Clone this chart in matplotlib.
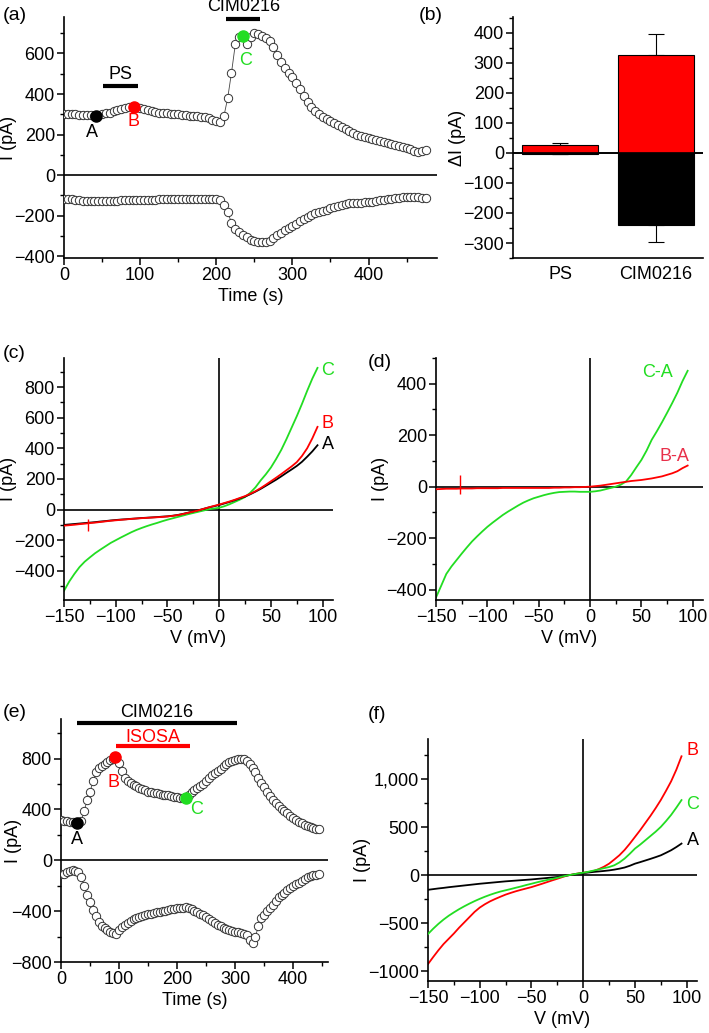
import numpy as np
import matplotlib
matplotlib.use('Agg')
import matplotlib.pyplot as plt
from matplotlib.ticker import MultipleLocator, FixedLocator, FixedFormatter

plt.rcParams['font.family'] = ['Liberation Sans', 'DejaVu Sans']
plt.rcParams['font.size'] = 13

RED = '#ff0000'
GREEN = '#22dd22'
PINK = '#e8304a'
FS = 13

## data
# (a) time course, one point every 5 s
ta_step = 5
a_out = [300, 300, 299, 300, 298, 297, 296, 294, 292, 296, 300, 305, 308, 315, 320, 325, 330, 335, 338, 336,
         330, 325, 320, 315, 312, 308, 306, 305, 303, 302, 300, 298, 296, 293, 292, 290, 288, 285, 280, 272,
         265, 262, 290, 380, 505, 645, 682, 688, 645, 680, 700, 698, 685, 675, 660, 630, 595, 560, 530, 505,
         485, 455, 425, 390, 360, 335, 315, 300, 285, 275, 265, 255, 245, 235, 225, 215, 208, 200, 193, 187,
         182, 178, 173, 168, 163, 158, 153, 148, 144, 140, 134, 128, 120, 116, 120, 122]
a_in = [-118, -120, -118, -122, -125, -126, -128, -127, -128, -128, -127, -128, -128, -127, -126, -125, -125, -124,
        -124, -123, -122, -122, -121, -121, -121, -120, -120, -120, -120, -120, -120, -119, -119, -119, -119, -119,
        -119, -118, -118, -118, -120, -125, -150, -185, -235, -265, -282, -295, -308, -320, -328, -332, -333, -332,
        -325, -312, -298, -285, -272, -262, -252, -240, -228, -215, -205, -197, -190, -185, -180, -172, -165, -158,
        -153, -148, -144, -140, -138, -137, -136, -135, -134, -131, -128, -125, -122, -119, -117, -115, -113, -111,
        -110, -109, -108, -110, -112, -112]
a_marks_t = [42, 92, 235]
a_marks_i = [292, 338, 688]

# (b) mean current change
b_groups = ['PS', 'CIM0216']
b_out = [26, 327]
b_out_err = [6, 70]
b_in = [-5, -240]
b_in_err = [0, 58]

# I-V curves, -150..95 mV every 5 mV
v_start, v_step = -150, 5
c_A = [-100, -97, -94, -91, -88, -85, -82, -78, -75, -71, -68, -65, -63, -60, -58, -55, -53, -51, -49, -46,
       -44, -40, -35, -28, -20, -12, -4, 5, 14, 22, 30, 40, 50, 61, 73, 85, 100, 117, 135, 155,
       175, 195, 217, 240, 262, 285, 312, 345, 380, 420]
c_B = [-105, -102, -99, -95, -92, -88, -85, -81, -77, -73, -70, -67, -64, -61, -58, -56, -54, -52, -50, -48,
       -45, -41, -36, -29, -21, -13, -5, 5, 15, 24, 33, 43, 53, 64, 76, 88, 103, 120, 140, 162,
       185, 208, 232, 257, 282, 310, 350, 400, 465, 540]
c_C = [-530, -470, -420, -375, -340, -312, -285, -262, -240, -218, -200, -182, -165, -148, -133, -120, -108, -97, -87, -76,
       -66, -57, -48, -39, -30, -22, -14, -6, 2, 7, 12, 22, 35, 50, 65, 82, 110, 145, 190, 230,
       275, 330, 390, 460, 535, 610, 690, 775, 855, 925]
c_spike = (-127, -140, -60)

d_CA = [-430, -385, -339, -310, -285, -260, -236, -213, -193, -174, -156, -140, -125, -110, -97, -85, -73, -62, -53, -45,
        -39, -33, -28, -24, -21, -20, -19, -19, -20, -20, -20, -18, -15, -10, -5, 0, 8, 20, 45, 75,
        104, 140, 182, 215, 250, 287, 325, 365, 410, 450]
d_BA = [-10, -9, -8, -8, -8, -7, -7, -7, -6, -6, -6, -6, -6, -5, -5, -5, -5, -5, -5, -5,
        -5, -5, -5, -4, -4, -3, -3, -2, -2, -1, 0, 2, 4, 7, 10, 13, 16, 19, 22, 24,
        26, 29, 32, 36, 40, 46, 52, 60, 72, 82]
d_spike = (-127, -30, 45)

# (e) time course, one point every 5 s
e_out = [315, 312, 308, 304, 300, 296, 297, 310, 390, 470, 535, 620, 690, 725, 745, 760, 772, 785, 800, 810,
         765, 700, 650, 620, 605, 595, 585, 570, 560, 550, 540, 535, 530, 525, 520, 515, 512, 510, 505, 500,
         495, 490, 488, 488, 515, 540, 555, 570, 585, 600, 625, 650, 670, 685, 700, 720, 740, 755, 770, 780,
         790, 795, 800, 800, 780, 755, 725, 690, 650, 610, 575, 540, 505, 475, 450, 425, 405, 385, 370, 350,
         335, 315, 300, 290, 280, 270, 262, 255, 245, 242]
e_in = [-110, -105, -95, -85, -80, -82, -95, -130, -200, -270, -330, -390, -440, -485, -515, -535, -550, -565, -572, -580,
        -550, -525, -510, -495, -480, -465, -455, -445, -435, -430, -425, -420, -415, -410, -405, -400, -395, -390, -385, -380,
        -378, -375, -372, -370, -372, -380, -395, -410, -420, -430, -445, -465, -480, -495, -510, -520, -530, -540, -550, -555,
        -560, -565, -572, -578, -590, -630, -650, -600, -520, -455, -430, -400, -378, -350, -320, -290, -270, -255, -235, -220,
        -205, -190, -175, -160, -145, -135, -125, -118, -112, -110]
e_marks_t = [28, 93, 215]
e_marks_i = [292, 808, 488]

f_A = [-150, -143, -136, -130, -123, -117, -111, -105, -99, -93, -87, -82, -77, -72, -67, -62, -58, -54, -50, -46,
       -42, -37, -32, -27, -22, -17, -8, 0, 8, 16, 24, 30, 36, 41, 46, 52, 60, 70, 82, 100,
       122, 138, 155, 172, 190, 209, 235, 262, 295, 331]
f_B = [-923, -850, -780, -715, -660, -605, -545, -490, -435, -380, -335, -300, -270, -245, -222, -200, -182, -165, -150, -136,
       -122, -105, -88, -70, -52, -35, -17, 0, 10, 20, 28, 35, 45, 65, 90, 122, 165, 210, 265, 330,
       400, 470, 545, 620, 700, 785, 880, 980, 1100, 1240]
f_C = [-610, -555, -505, -460, -420, -385, -352, -322, -294, -268, -244, -222, -202, -184, -168, -155, -142, -128, -115, -100,
       -87, -73, -60, -48, -37, -25, -12, 0, 10, 20, 28, 38, 50, 62, 75, 87, 105, 135, 175, 225,
       279, 320, 365, 410, 455, 505, 565, 630, 705, 784]


def volts(vals):
    return v_start + v_step * np.arange(len(vals))


def times(vals):
    return ta_step * np.arange(len(vals))


def style(ax):
    for s in ['top', 'right']:
        ax.spines[s].set_visible(False)
    for s in ['left', 'bottom']:
        ax.spines[s].set_linewidth(1.2)
    ax.tick_params(which='major', direction='out', length=5, width=1.1, labelsize=FS, pad=1.5)
    ax.tick_params(which='minor', direction='out', length=3, width=1.0)
    ax.axhline(0, color='black', lw=1.2, zorder=1)


def trace(ax, t, y):
    ax.plot(t, y, '-', color='#444444', lw=0.6, zorder=2)
    ax.plot(t, y, 'o', ms=6, mfc='white', mec='#333333', mew=0.7, zorder=3)


def iv_axes(ax):
    style(ax)
    ax.axvline(0, color='black', lw=1.2, zorder=1)
    ax.set_xlim(-150, 110)
    ax.xaxis.set_major_locator(MultipleLocator(50))
    ax.xaxis.set_minor_locator(MultipleLocator(25))
    ax.set_xlabel('V (mV)', fontsize=FS, labelpad=3)
    ax.set_ylabel('I (pA)', fontsize=FS, labelpad=-2)


fig = plt.figure(figsize=(7.09, 10.33), dpi=100)

# (a)
ax = fig.add_axes([0.0903, 0.7502, 0.5261, 0.2333])
style(ax)
trace(ax, times(a_out), a_out)
trace(ax, times(a_in), a_in)
for t, i, c in zip(a_marks_t, a_marks_i, ['black', RED, GREEN]):
    ax.plot(t, i, 'o', ms=8, color=c, zorder=4)
ax.text(37, 210, 'A', color='black', ha='center', va='center', fontsize=FS)
ax.text(91, 265, 'B', color=RED, ha='center', va='center', fontsize=FS)
ax.text(239, 567, 'C', color=GREEN, ha='center', va='center', fontsize=FS)
ax.plot([51, 97], [438, 438], color='black', lw=3, solid_capstyle='butt', clip_on=False)
ax.text(74, 494, 'PS', ha='center', va='center', fontsize=FS)
ax.plot([213, 258], [771, 771], color='black', lw=3, solid_capstyle='butt', clip_on=False)
ax.text(236, 832, 'CIM0216', ha='center', va='center', fontsize=FS)
ax.set_xlim(0, 490)
ax.set_ylim(-410, 780)
ax.xaxis.set_major_locator(MultipleLocator(100))
ax.xaxis.set_minor_locator(MultipleLocator(50))
ax.yaxis.set_major_locator(MultipleLocator(200))
ax.yaxis.set_minor_locator(MultipleLocator(100))
ax.set_xlabel('Time (s)', fontsize=FS, labelpad=3)
ax.set_ylabel('I (pA)', fontsize=FS, labelpad=-2)
fig.text(0.004, 0.985, '(a)', fontsize=14, va='center')

# (b)
ax = fig.add_axes([0.7236, 0.7502, 0.2680, 0.2333])
style(ax)
xb = np.arange(len(b_groups))
ax.bar(xb, b_out, width=0.79, color=RED, edgecolor='black', lw=0.8, zorder=2)
ax.bar(xb, b_in, width=0.79, color='black', edgecolor='black', lw=0.8, zorder=2)
ax.errorbar(xb, b_out, yerr=[np.zeros(len(xb)), b_out_err], fmt='none', ecolor='black',
            elinewidth=0.8, capsize=6, capthick=0.8, zorder=1)
ax.errorbar(xb, b_in, yerr=[b_in_err, np.zeros(len(xb))], fmt='none', ecolor='black',
            elinewidth=0.8, capsize=6, capthick=0.8, zorder=1)
ax.axhline(0, color='black', lw=1.2, zorder=3)
ax.set_xlim(-0.49, 1.49)
ax.set_ylim(-350, 452)
ax.set_xticks(xb)
ax.set_xticklabels(b_groups, fontsize=FS)
ax.tick_params(axis='x', length=0, pad=6)
ax.yaxis.set_major_locator(MultipleLocator(100))
ax.yaxis.set_minor_locator(MultipleLocator(50))
ax.set_ylabel('\u0394I (pA)', fontsize=FS, labelpad=-2)
fig.text(0.590, 0.985, '(b)', fontsize=14, va='center')

# (c)
ax = fig.add_axes([0.0903, 0.4192, 0.3794, 0.2343])
iv_axes(ax)
ax.plot(volts(c_A), c_A, color='black', lw=1.3, zorder=3)
ax.plot(volts(c_B), c_B, color=RED, lw=1.3, zorder=3)
ax.plot(volts(c_C), c_C, color=GREEN, lw=1.3, zorder=2)
ax.vlines(c_spike[0], c_spike[1], c_spike[2], color=RED, lw=1.0, zorder=3)
ax.text(105, 910, 'C', color=GREEN, ha='center', va='center', fontsize=FS)
ax.text(105, 560, 'B', color=RED, ha='center', va='center', fontsize=FS)
ax.text(105, 428, 'A', color='black', ha='center', va='center', fontsize=FS)
ax.set_ylim(-590, 990)
ax.yaxis.set_major_locator(MultipleLocator(200))
ax.yaxis.set_minor_locator(MultipleLocator(100))
fig.text(0.004, 0.658, '(c)', fontsize=14, va='center')

# (d)
ax = fig.add_axes([0.6150, 0.4192, 0.3766, 0.2343])
iv_axes(ax)
ax.plot(volts(d_BA), d_BA, color=RED, lw=1.3, zorder=3)
ax.plot(volts(d_CA), d_CA, color=GREEN, lw=1.3, zorder=2)
ax.vlines(d_spike[0], d_spike[1], d_spike[2], color=RED, lw=1.0, zorder=3)
ax.text(66, 443, 'C-A', color=GREEN, ha='center', va='center', fontsize=FS)
ax.text(82, 117, 'B-A', color=PINK, ha='center', va='center', fontsize=FS)
ax.set_ylim(-440, 500)
ax.yaxis.set_major_locator(MultipleLocator(200))
ax.yaxis.set_minor_locator(MultipleLocator(100))
fig.text(0.519, 0.649, '(d)', fontsize=14, va='center')

# (e)
ax = fig.add_axes([0.0860, 0.0687, 0.3766, 0.2352])
style(ax)
trace(ax, times(e_out), e_out)
trace(ax, times(e_in), e_in)
for t, i, c in zip(e_marks_t, e_marks_i, ['black', RED, GREEN]):
    ax.plot(t, i, 'o', ms=8, color=c, zorder=4)
ax.text(28, 160, 'A', color='black', ha='center', va='center', fontsize=FS)
ax.text(90, 614, 'B', color=RED, ha='center', va='center', fontsize=FS)
ax.text(233, 400, 'C', color=GREEN, ha='center', va='center', fontsize=FS)
ax.plot([28, 303], [1079, 1079], color='black', lw=3, solid_capstyle='butt', clip_on=False)
ax.text(165, 1165, 'CIM0216', ha='center', va='center', fontsize=FS, clip_on=False)
ax.plot([95, 222], [898, 898], color=RED, lw=3, solid_capstyle='butt', clip_on=False)
ax.text(158, 965, 'ISOSA', color=RED, ha='center', va='center', fontsize=FS)
ax.set_xlim(0, 460)
ax.set_ylim(-800, 1110)
ax.xaxis.set_major_locator(MultipleLocator(100))
ax.xaxis.set_minor_locator(MultipleLocator(50))
ax.yaxis.set_major_locator(MultipleLocator(400))
ax.yaxis.set_minor_locator(MultipleLocator(200))
ax.set_xlabel('Time (s)', fontsize=FS, labelpad=3)
ax.set_ylabel('I (pA)', fontsize=FS, labelpad=-8)
fig.text(0.004, 0.310, '(e)', fontsize=14, va='center')

# (f)
ax = fig.add_axes([0.6037, 0.0503, 0.3794, 0.2343])
iv_axes(ax)
ax.plot(volts(f_A), f_A, color='black', lw=1.3, zorder=3)
ax.plot(volts(f_C), f_C, color=GREEN, lw=1.3, zorder=3)
ax.plot(volts(f_B), f_B, color=RED, lw=1.3, zorder=2)
ax.text(106, 1302, 'B', color=RED, ha='center', va='center', fontsize=FS)
ax.text(106, 740, 'C', color=GREEN, ha='center', va='center', fontsize=FS)
ax.text(106, 365, 'A', color='black', ha='center', va='center', fontsize=FS)
ax.set_ylim(-1100, 1420)
f_ticks = [-1000, -500, 0, 500, 1000]
ax.yaxis.set_major_locator(FixedLocator(f_ticks))
ax.yaxis.set_major_formatter(FixedFormatter(['\u22121000', '\u2212500', '0', '500', '1,000']))
ax.yaxis.set_minor_locator(MultipleLocator(250))
fig.text(0.519, 0.308, '(f)', fontsize=14, va='center')

plt.savefig('out.png', dpi=100)
